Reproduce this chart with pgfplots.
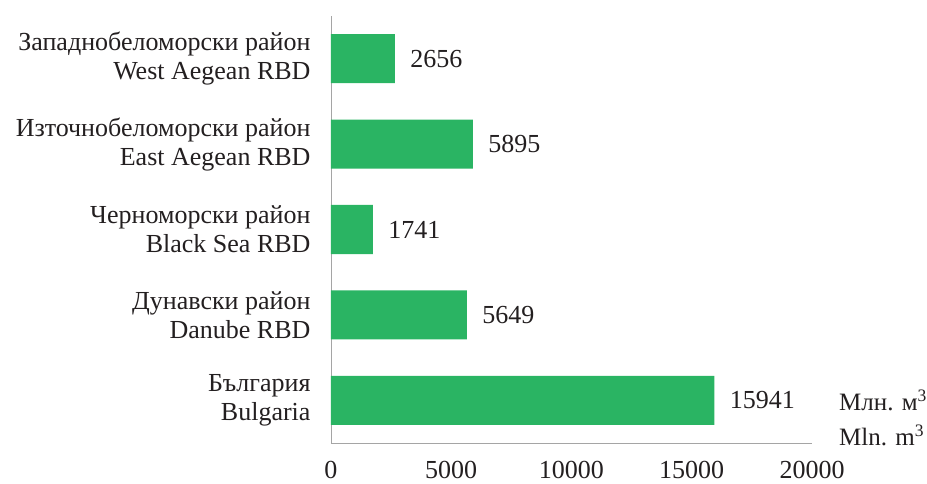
\documentclass[border=0pt]{standalone}
\usepackage{pgfplots}
\pgfplotsset{compat=1.18}
\usepackage{fontspec}
\setmainfont{Liberation Serif}
\definecolor{barg}{RGB}{42,180,99}
\definecolor{axg}{RGB}{165,165,165}
\definecolor{txt}{RGB}{35,31,32}
\begin{document}
\begin{tikzpicture}
\begin{axis}[
  scale only axis,
  width=481bp, height=427bp,
  xbar, bar width=0.574,
  xmin=0, xmax=20000,
  ymin=-0.5, ymax=4.5,
  clip=false,
  axis lines=left,
  axis line style={-, draw=axg, line width=0.8bp},
  xtick={0,5000,10000,15000,20000},
  ytick={0,1,2,3,4},
  yticklabels={{България\\Bulgaria},{Дунавски район\\Danube RBD},{Черноморски район\\Black Sea RBD},{Източнобеломорски район\\East Aegean RBD},{Западнобеломорски район\\West Aegean RBD}},
  major tick length=0,
  scaled x ticks=false,
  /pgf/number format/assume math mode=true,
  /pgf/number format/1000 sep={},
  font=\fontsize{26bp}{29bp}\selectfont\color{txt},
  yticklabel style={align=right, xshift=-17bp},
  xticklabel style={yshift=-15bp},
  nodes near coords,
  nodes near coords style={font=\fontsize{26bp}{29bp}\selectfont\color{txt}, xshift=12bp, /pgf/number format/assume math mode=true, /pgf/number format/1000 sep={}},
]
\addplot[fill=barg, draw=none] coordinates {(15941,0) (5649,1) (1741,2) (5895,3) (2656,4)};
\coordinate (sw) at (rel axis cs:0,0);
\coordinate (ne) at (rel axis cs:1,1);
\coordinate (se) at (rel axis cs:1,0);
\end{axis}
\node[anchor=west, align=left, inner sep=0pt, font=\fontsize{25bp}{35bp}\selectfont\color{txt}] at ([xshift=27bp, yshift=25bp]se) {Млн. м\textsuperscript{3}\\Mln. m\textsuperscript{3}};
\pgfresetboundingbox
\path[use as bounding box] ([xshift=-331bp,yshift=-41bp]sw) rectangle ([xshift=115bp,yshift=16bp]ne);
\end{tikzpicture}
\end{document}
